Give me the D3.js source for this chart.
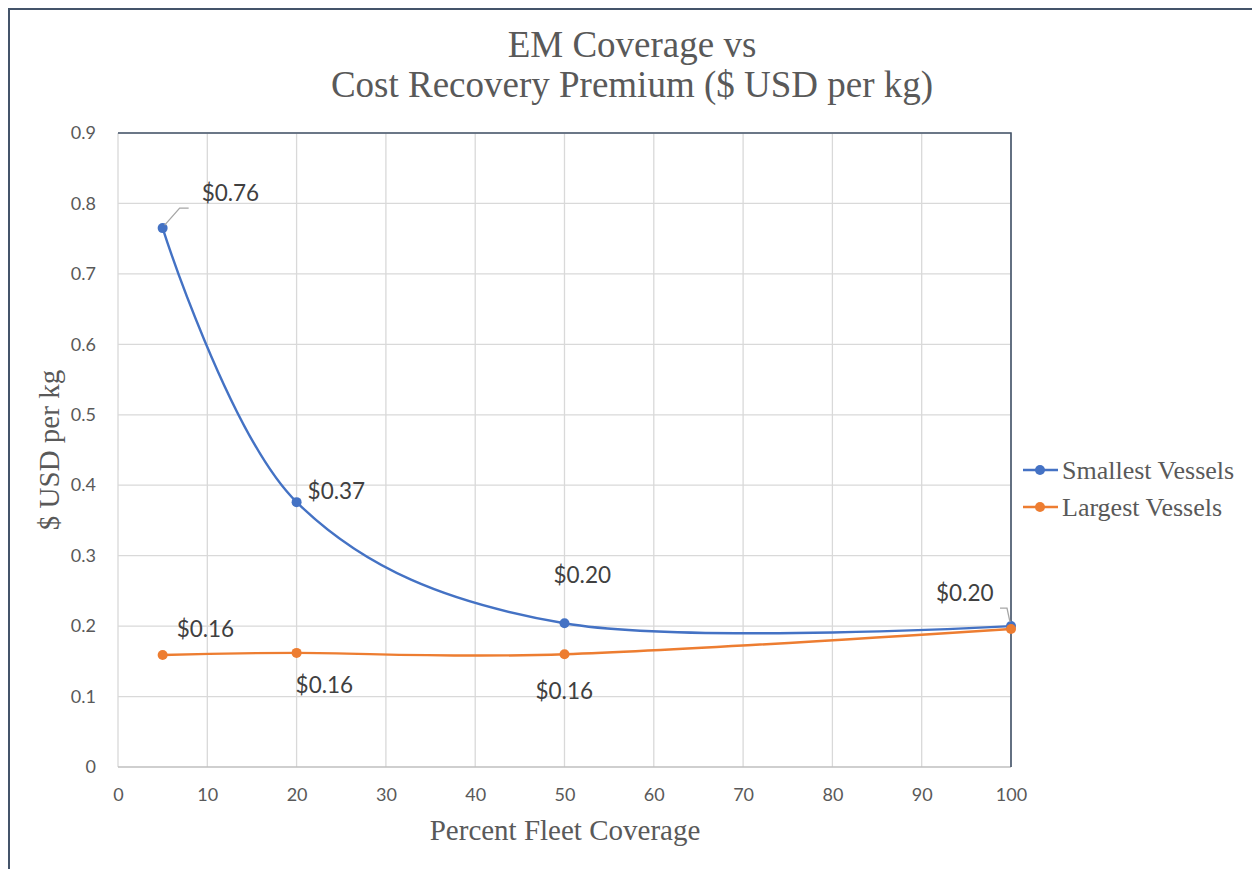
<!DOCTYPE html>
<html><head><meta charset="utf-8">
<script src="https://cdn.jsdelivr.net/npm/d3@7"></script>
<style>html,body{margin:0;padding:0;background:#fff;}</style>
</head><body>
<svg id="chart" width="1252" height="869"></svg>
<script>
const coverage = [5, 20, 50, 100];
const smallestVessels = [0.765, 0.376, 0.204, 0.200];
const largestVessels = [0.159, 0.162, 0.160, 0.196];
const smallestLabels = ["$0.76", "$0.37", "$0.20", "$0.20"];
const largestLabels = ["$0.16", "$0.16", "$0.16", ""];
const xTicks = [0,10,20,30,40,50,60,70,80,90,100];
const yTicks = [0,0.1,0.2,0.3,0.4,0.5,0.6,0.7,0.8,0.9];
const seriesNames = ["Smallest Vessels", "Largest Vessels"];
const colors = ["#4472C4", "#ED7D31"];

const svg = d3.select("#chart");
const x = d3.scaleLinear().domain([0,100]).range([118,1011]);
const y = d3.scaleLinear().domain([0,0.9]).range([767,133]);
const sans = "Lato, 'Open Sans', sans-serif";
const serif = "'Liberation Serif', 'Times New Roman', serif";

// outer border
svg.append("path").attr("d","M9,869 L9,9 L1252,9").attr("fill","none").attr("stroke","#44546A").attr("stroke-width",2);

// title
const title = svg.append("text").attr("text-anchor","middle").attr("font-family",serif).attr("font-size",37).attr("fill","#595959");
title.append("tspan").attr("x",632).attr("y",57).text("EM Coverage vs");
title.append("tspan").attr("x",632).attr("y",97).text("Cost Recovery Premium ($ USD per kg)");

// gridlines
svg.append("g").selectAll("line").data(yTicks.slice(1)).join("line")
  .attr("x1",x(0)).attr("x2",x(100)).attr("y1",d=>y(d)).attr("y2",d=>y(d))
  .attr("stroke","#d9d9d9").attr("stroke-width",1.3);
svg.append("g").selectAll("line").data(xTicks).join("line")
  .attr("x1",d=>x(d)).attr("x2",d=>x(d)).attr("y1",y(0)).attr("y2",y(0.9))
  .attr("stroke","#d9d9d9").attr("stroke-width",1.3);
// bottom axis line
svg.append("line").attr("x1",x(0)).attr("x2",x(100)).attr("y1",y(0)).attr("y2",y(0)).attr("stroke","#bfbfbf").attr("stroke-width",1.3);
// top and right borders of plot
svg.append("path").attr("d",`M${x(0)},${y(0.9)} L${x(100)},${y(0.9)} L${x(100)},${y(0)}`)
  .attr("fill","none").attr("stroke","#44546A").attr("stroke-width",1.6);

// axes via d3 axis, styled
const xAxis = svg.append("g").attr("transform",`translate(0,${y(0)})`)
  .call(d3.axisBottom(x).tickValues(xTicks).tickSize(0).tickPadding(21).tickFormat(d3.format("d")));
xAxis.select(".domain").remove();
xAxis.selectAll("text").attr("font-family",sans).attr("font-size",18).attr("fill","#595959");
const yAxis = svg.append("g").attr("transform",`translate(${x(0)},0)`)
  .call(d3.axisLeft(y).tickValues(yTicks).tickSize(0).tickPadding(22).tickFormat(d=>d===0?"0":d3.format(".1f")(d)));
yAxis.select(".domain").remove();
yAxis.selectAll("text").attr("font-family",sans).attr("font-size",18).attr("fill","#595959");

// axis titles
svg.append("text").attr("x",565).attr("y",840).attr("text-anchor","middle").attr("font-family",serif).attr("font-size",29).attr("fill","#595959").text("Percent Fleet Coverage");
svg.append("text").attr("transform","translate(59,450) rotate(-90)").attr("text-anchor","middle").attr("font-family",serif).attr("font-size",29).attr("fill","#595959").text("$ USD per kg");

// series
const line = d3.line().x(d=>x(d[0])).y(d=>y(d[1])).curve(d3.curveCardinal.tension(0));
const series = [smallestVessels, largestVessels];
series.forEach((vals,i)=>{
  const pts = coverage.map((c,j)=>[c,vals[j]]);
  svg.append("path").datum(pts).attr("d",line).attr("fill","none").attr("stroke",colors[i]).attr("stroke-width",2.4);
});
series.forEach((vals,i)=>{
  const pts = coverage.map((c,j)=>[c,vals[j]]);
  svg.append("g").selectAll("circle").data(pts).join("circle")
    .attr("cx",d=>x(d[0])).attr("cy",d=>y(d[1])).attr("r",5).attr("fill",colors[i]);
});

// leader lines
svg.append("path").attr("d",`M${x(5)+2},${y(smallestVessels[0])-3} L${x(5)+17},${y(smallestVessels[0])-20} L${x(5)+26},${y(smallestVessels[0])-20}`)
  .attr("fill","none").attr("stroke","#a6a6a6").attr("stroke-width",1.3);
svg.append("path").attr("d",`M${x(100)-11},${y(smallestVessels[3])-18} L${x(100)-4},${y(smallestVessels[3])-18} L${x(100)-1},${y(smallestVessels[3])-4}`)
  .attr("fill","none").attr("stroke","#a6a6a6").attr("stroke-width",1.3);

// data labels
const labelOffsets = [[[39,-35],[11,-11],[-11,-48],[-75,-33]], [[14,-26],[-1,32],[-29,37]]];
const lbl = svg.append("g").attr("font-family",sans).attr("font-size",22.5).attr("fill","#404040");
smallestLabels.forEach((t,j)=>{
  if(!t) return;
  lbl.append("text").attr("x",x(coverage[j])+labelOffsets[0][j][0]).attr("y",y(smallestVessels[j])+labelOffsets[0][j][1]).attr("dy","0.35em").text(t);
});
largestLabels.forEach((t,j)=>{
  if(!t) return;
  lbl.append("text").attr("x",x(coverage[j])+labelOffsets[1][j][0]).attr("y",y(largestVessels[j])+labelOffsets[1][j][1]).attr("dy","0.35em").text(t);
});

// legend
const lg = svg.append("g");
seriesNames.forEach((n,i)=>{
  const ly = 470 + i*37;
  lg.append("line").attr("x1",1023).attr("x2",1058).attr("y1",ly).attr("y2",ly).attr("stroke",colors[i]).attr("stroke-width",2.4);
  lg.append("circle").attr("cx",1040).attr("cy",ly).attr("r",5).attr("fill",colors[i]);
  lg.append("text").attr("x",1062).attr("y",ly).attr("dy","0.33em").attr("font-family",serif).attr("font-size",26).attr("fill","#595959").text(n);
});
</script>
</body></html>
